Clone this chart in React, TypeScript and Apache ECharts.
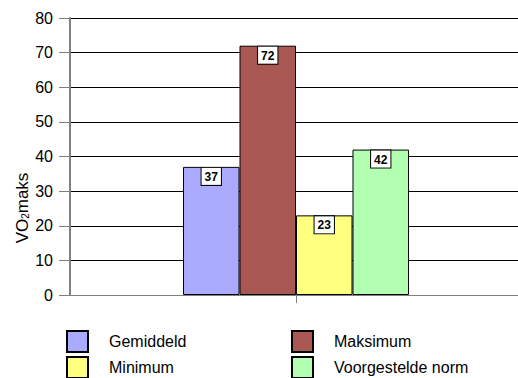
import React, { useEffect, useRef } from "react";
import * as echarts from "echarts";

const categories = [""];
const seriesNames = ["Gemiddeld", "Maksimum", "Minimum", "Voorgestelde norm"];
const seriesValues = [37, 72, 23, 42];
const seriesColors = ["#AAAAFF", "#A95752", "#FFFF80", "#B2FFB2"];
const yTicks = { min: 0, max: 80, interval: 10 };
const yTitleMain = "VO";
const yTitleSub = "2";
const yTitleRest = "maks";

const FONT = "'Liberation Sans', Arial, sans-serif";

export default function App() {
  const ref = useRef<HTMLDivElement>(null);
  useEffect(() => {
    if (!ref.current) return;
    const chart = echarts.init(ref.current, undefined, { renderer: "svg" });
    const series = seriesNames.map((name, i) => ({
      name,
      type: "bar",
      data: [seriesValues[i]],
      barGap: "0%",
      barCategoryGap: "50%",
      itemStyle: { color: seriesColors[i], borderColor: "#000", borderWidth: 1 },
      label: {
        show: true,
        position: "insideTop",
        distance: 1,
        color: "#000",
        fontFamily: FONT,
        fontWeight: "bold",
        fontSize: 12,
        backgroundColor: "#fff",
        borderColor: "#000",
        borderWidth: 1,
        padding: [3, 3, 2, 3],
      },
    }));
    const legendPos = [
      { left: 66, top: 330 },
      { left: 291, top: 330 },
      { left: 66, top: 356 },
      { left: 291, top: 356 },
    ];
    const legends = seriesNames.map((name, i) => ({
      ...legendPos[i],
      data: [name],
      itemWidth: 21,
      itemHeight: 21,
      itemGap: 0,
      icon: "rect",
      padding: 0,
      selectedMode: false,
      textStyle: {
        fontFamily: FONT,
        fontSize: 16,
        color: "#000",
        padding: [0, 0, 0, 16],
      },
    }));
    chart.setOption({
      animation: false,
      backgroundColor: "#fff",
      grid: { left: 70, right: -4, top: 18, bottom: 83, containLabel: false, outerBoundsMode: "none" },
      legend: legends,
      xAxis: {
        type: "category",
        data: categories,
        axisLine: { lineStyle: { color: "#808080", width: 1 } },
        axisTick: { show: true, alignWithLabel: true, length: 8, lineStyle: { color: "#808080" } },
        axisLabel: { show: false },
      },
      yAxis: {
        type: "value",
        min: yTicks.min,
        max: yTicks.max,
        interval: yTicks.interval,
        axisLine: { show: true, lineStyle: { color: "#808080", width: 2 } },
        axisTick: { show: true, length: 11, lineStyle: { color: "#808080" } },
        axisLabel: { margin: 17, color: "#000", fontFamily: FONT, fontSize: 16 },
        splitLine: { show: true, lineStyle: { color: "#000", width: 1 } },
      },
      graphic: [
        {
          type: "text",
          x: 22,
          y: 208,
          rotation: Math.PI / 2,
          style: {
            text: yTitleMain + "{sub|" + yTitleSub + "}" + yTitleRest,
            fontFamily: FONT,
            fontSize: 17,
            fill: "#000",
            textAlign: "center",
            textVerticalAlign: "middle",
            rich: {
              sub: {
                fontFamily: FONT,
                fontSize: 10,
                fill: "#000",
                verticalAlign: "bottom",
                padding: [6, 0, 0, 0],
              },
            },
          },
        },
      ],
      series,
    });
    return () => chart.dispose();
  }, []);
  return <div ref={ref} style={{ width: 518, height: 378, position: "absolute", left: 0, top: 0 }} />;
}
